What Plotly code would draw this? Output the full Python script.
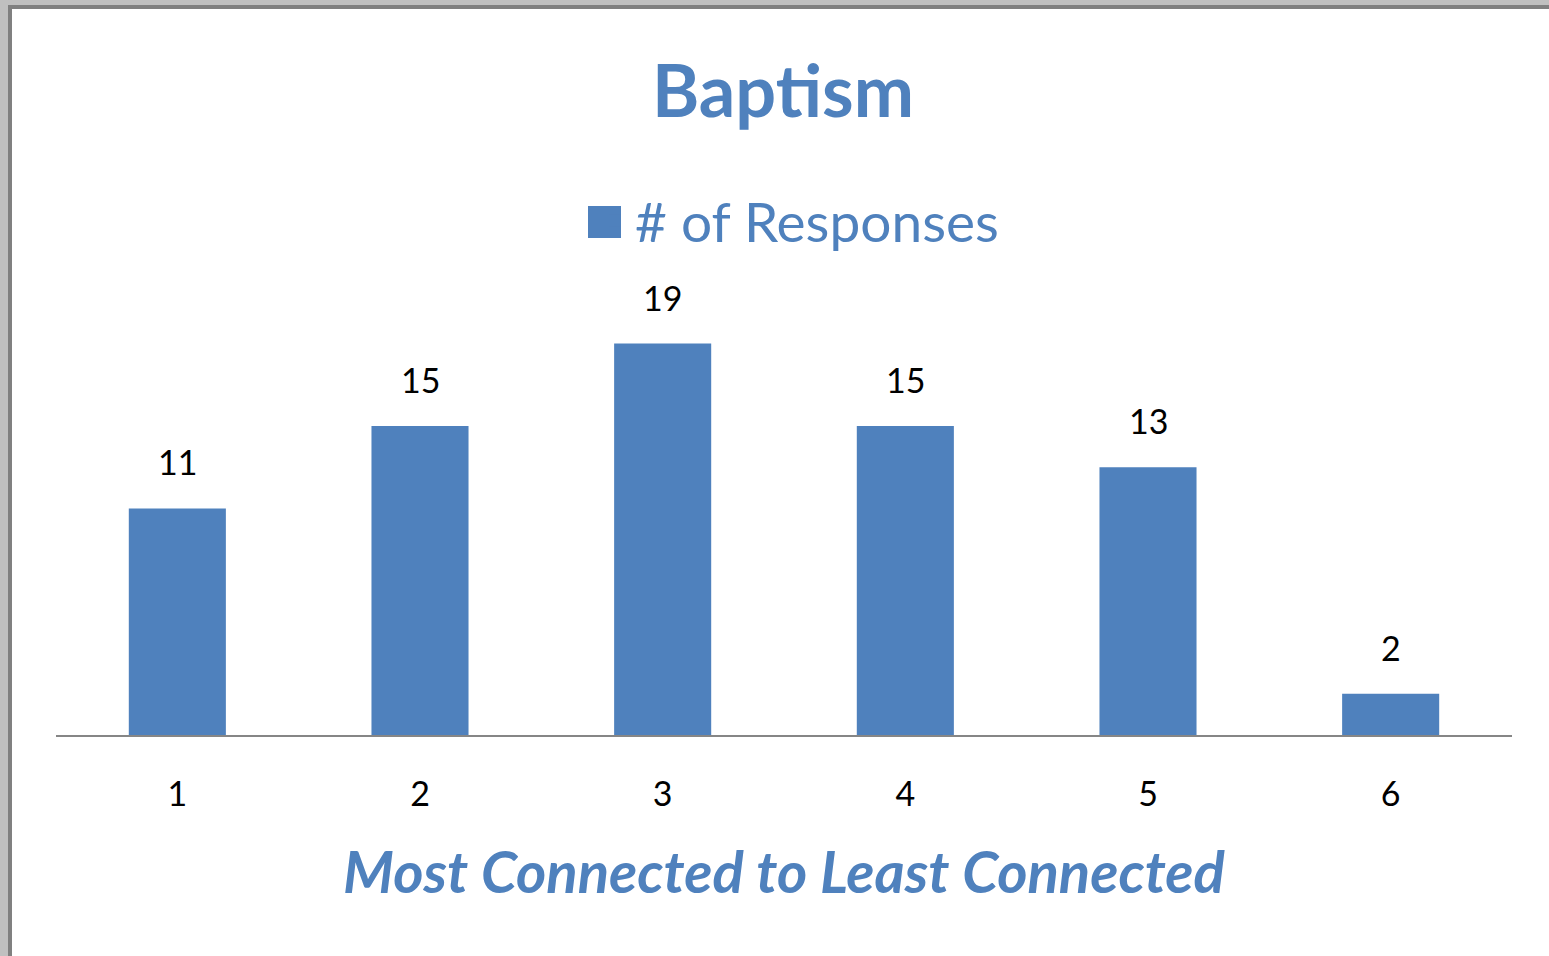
import plotly.graph_objects as go

categories = ["1", "2", "3", "4", "5", "6"]
responses = [11, 15, 19, 15, 13, 2]
series_name = "# of Responses"
chart_title = "Baptism"
x_title = "Most Connected to Least Connected"

W, H = 1549, 956
ML, MR, MT, MB = 56, 37, 323, 221
PW, PH = W - ML - MR, H - MT - MB

def px(x):
    return (x - ML) / PW

def py(y):
    return (H - MB - y) / PH

BLUE = "#4f81bd"
FONT = "Lato"

fig = go.Figure()
fig.add_trace(go.Bar(
    x=categories, y=responses, name=series_name,
    marker=dict(color=BLUE, line=dict(width=0)),
    width=0.4, showlegend=True,
))

for i, v in enumerate(responses):
    fig.add_annotation(x=i, y=v, xref="x", yref="y", text=str(v), showarrow=False,
                       yanchor="bottom", yshift=24,
                       font=dict(family=FONT, size=34, color="#000000"))

# window frame on left and top
shapes = [
    dict(type="rect", xref="paper", yref="paper", x0=px(0), x1=px(W), y0=py(0), y1=py(9),
         fillcolor="#c0c0c0", line=dict(width=0), layer="above"),
    dict(type="rect", xref="paper", yref="paper", x0=px(0), x1=px(12), y0=py(0), y1=py(H),
         fillcolor="#c0c0c0", line=dict(width=0), layer="above"),
    dict(type="rect", xref="paper", yref="paper", x0=px(8), x1=px(W), y0=py(5), y1=py(9),
         fillcolor="#808080", line=dict(width=0), layer="above"),
    dict(type="rect", xref="paper", yref="paper", x0=px(8), x1=px(12), y0=py(5), y1=py(H),
         fillcolor="#808080", line=dict(width=0), layer="above"),
    # enlarged legend swatch
    dict(type="rect", xref="paper", yref="paper", x0=px(588), x1=px(621), y0=py(238), y1=py(206),
         fillcolor=BLUE, line=dict(width=0), layer="above"),
]

fig.update_layout(
    width=W, height=H,
    margin=dict(l=ML, r=MR, t=MT, b=MB, autoexpand=False),
    paper_bgcolor="white", plot_bgcolor="white",
    title=dict(text="<b>" + chart_title + "</b>", x=783 / W, xanchor="center",
               y=1 - 92 / H, yanchor="middle",
               font=dict(family=FONT, size=72, color=BLUE)),
    legend=dict(orientation="h", x=px(595), xanchor="left", y=py(221), yanchor="middle",
                font=dict(family=FONT, size=55, color=BLUE), itemwidth=30,
                bgcolor="rgba(0,0,0,0)"),
    xaxis=dict(type="category", showline=True, linecolor="#868686", linewidth=2, ticks="",
               showgrid=False, zeroline=False, ticklabelstandoff=28,
               tickfont=dict(family=FONT, size=34, color="#000000"),
               title=dict(text="<b><i>" + x_title + "</i></b>", standoff=41,
                          font=dict(family=FONT, size=58, color=BLUE))),
    yaxis=dict(visible=False, range=[0, 20], showgrid=False, zeroline=False),
    shapes=shapes,
)

fig.write_html("out.html", config={"displayModeBar": False},
               post_script="document.body.style.margin='0';")
